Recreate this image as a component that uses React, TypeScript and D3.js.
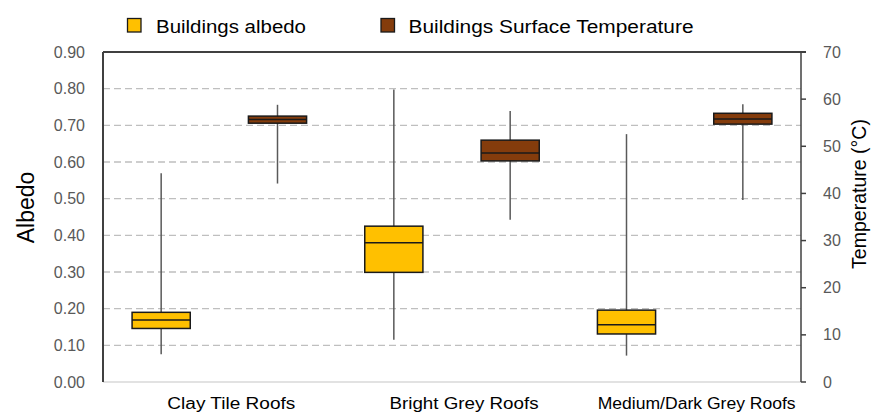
import React from "react";
import * as d3 from "d3";

const categories = ["Clay Tile Roofs", "Bright Grey Roofs", "Medium/Dark Grey Roofs"];
const albedoMin = [0.076, 0.115, 0.072];
const albedoQ1 = [0.146, 0.299, 0.131];
const albedoMedian = [0.169, 0.38, 0.156];
const albedoQ3 = [0.19, 0.425, 0.196];
const albedoMax = [0.569, 0.798, 0.676];
const tempMin = [42.1, 34.4, 38.6];
const tempQ1 = [54.9, 46.9, 54.7];
const tempMedian = [55.7, 48.6, 55.8];
const tempQ3 = [56.4, 51.3, 57.0];
const tempMax = [58.8, 57.5, 58.9];
const albedoTicks = [0, 0.1, 0.2, 0.3, 0.4, 0.5, 0.6, 0.7, 0.8, 0.9];
const tempTicks = [0, 10, 20, 30, 40, 50, 60, 70];
const seriesNames = ["Buildings albedo", "Buildings Surface Temperature"];

const W = 876;
const H = 412;
const left = 103;
const right = 801;
const top = 52;
const bottom = 382;
const FONT = "'Liberation Sans', Arial, sans-serif";
const COL_ALB = "#FFC000";
const COL_TEMP = "#843C0C";

export default function App() {
  const x = d3.scaleBand<string>().domain(categories).range([left, right]).padding(0);
  const inner = d3
    .scaleBand<string>()
    .domain(["albedo", "temp"])
    .range([0, x.bandwidth()])
    .paddingInner(0.5)
    .paddingOuter(0.25);
  const yA = d3.scaleLinear().domain([0, 0.9]).range([bottom, top]);
  const yT = d3.scaleLinear().domain([0, 70]).range([bottom, top]);

  const boxes: any[] = [];
  categories.forEach((c, i) => {
    boxes.push({
      key: "a" + i,
      x0: (x(c) as number) + (inner("albedo") as number),
      w: inner.bandwidth(),
      min: yA(albedoMin[i]),
      q1: yA(albedoQ1[i]),
      med: yA(albedoMedian[i]),
      q3: yA(albedoQ3[i]),
      max: yA(albedoMax[i]),
      fill: COL_ALB,
    });
    boxes.push({
      key: "t" + i,
      x0: (x(c) as number) + (inner("temp") as number),
      w: inner.bandwidth(),
      min: yT(tempMin[i]),
      q1: yT(tempQ1[i]),
      med: yT(tempMedian[i]),
      q3: yT(tempQ3[i]),
      max: yT(tempMax[i]),
      fill: COL_TEMP,
    });
  });

  const labelWidths = [128, 149, 198];

  return (
    <svg
      width={W}
      height={H}
      style={{ position: "absolute", left: 0, top: 0, background: "#fff" }}
      fontFamily={FONT}
    >
      <rect x={0} y={0} width={W} height={H} fill="#fff" />
      {/* gridlines */}
      {albedoTicks
        .filter((t) => t > 0 && t < 0.9)
        .map((t) => (
          <line
            key={"g" + t}
            x1={left}
            x2={right}
            y1={yA(t)}
            y2={yA(t)}
            stroke="#BFBFBF"
            strokeWidth={1.3}
            strokeDasharray="7 4"
          />
        ))}
      {/* bottom line */}
      <line x1={left} x2={right} y1={bottom} y2={bottom} stroke="#D9D9D9" strokeWidth={1.3} />
      {/* top border */}
      <line x1={left} x2={right + 5} y1={top} y2={top} stroke="#404040" strokeWidth={2} />
      {/* left axis */}
      <line x1={left} x2={left} y1={top} y2={bottom} stroke="#404040" strokeWidth={2} />
      {/* right axis */}
      <line x1={right} x2={right} y1={top} y2={bottom} stroke="#404040" strokeWidth={1.5} />
      {tempTicks.map((t) => (
        <line key={"rt" + t} x1={right} x2={right + 5} y1={yT(t)} y2={yT(t)} stroke="#404040" strokeWidth={1.5} />
      ))}
      {/* left tick labels */}
      {albedoTicks.map((t) => (
        <text key={"lt" + t} x={85} y={yA(t)} dy="0.35em" textAnchor="end" fontSize={16} fill="#595959">
          {d3.format(".2f")(t)}
        </text>
      ))}
      {/* right tick labels */}
      {tempTicks.map((t) => (
        <text key={"rl" + t} x={823} y={yT(t)} dy="0.35em" textAnchor="start" fontSize={16} fill="#595959">
          {t}
        </text>
      ))}
      {/* axis titles */}
      <text transform={`translate(34, ${207.5}) rotate(-90)`} textAnchor="middle" fontSize={23} fill="#000">
        Albedo
      </text>
      <text transform={`translate(866, ${194}) rotate(-90)`} textAnchor="middle" fontSize={19.5} fill="#000">
        Temperature (°C)
      </text>
      {/* boxes */}
      {boxes.map((b) => {
        const cx = b.x0 + b.w / 2;
        return (
          <g key={b.key}>
            <line x1={cx} x2={cx} y1={b.max} y2={b.min} stroke="#595959" strokeWidth={1.5} />
            <rect x={b.x0} y={b.q3} width={b.w} height={b.q1 - b.q3} fill={b.fill} stroke="#1a1a1a" strokeWidth={1.5} />
            <line x1={b.x0} x2={b.x0 + b.w} y1={b.med} y2={b.med} stroke="#1a1a1a" strokeWidth={1.5} />
          </g>
        );
      })}
      {/* category labels */}
      {categories.map((c, i) => (
        <text
          key={"c" + c}
          x={(x(c) as number) + x.bandwidth() / 2 + 12}
          y={409}
          textAnchor="middle"
          fontSize={16}
          fill="#000"
          textLength={labelWidths[i]}
          lengthAdjust="spacingAndGlyphs"
        >
          {c}
        </text>
      ))}
      {/* legend */}
      <rect x={127.5} y={18.5} width={13.5} height={13.5} fill={COL_ALB} stroke="#1a1a1a" strokeWidth={1.3} />
      <text x={156} y={32.5} fontSize={17.5} fill="#000" textLength={150} lengthAdjust="spacingAndGlyphs">
        {seriesNames[0]}
      </text>
      <rect x={381} y={18.5} width={13.5} height={13.5} fill={COL_TEMP} stroke="#1a1a1a" strokeWidth={1.3} />
      <text x={408.5} y={32.5} fontSize={17.5} fill="#000" textLength={285} lengthAdjust="spacingAndGlyphs">
        {seriesNames[1]}
      </text>
    </svg>
  );
}
